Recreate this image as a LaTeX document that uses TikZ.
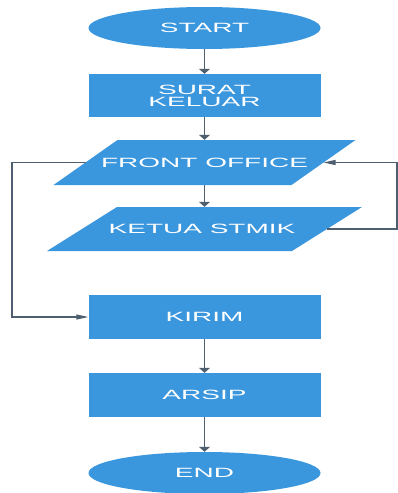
\documentclass[tikz,border=0pt]{standalone}
\usepackage{fontspec}
\setmainfont{Liberation Sans}
\usetikzlibrary{shapes.geometric,arrows.meta,calc}
\definecolor{fcblue}{RGB}{58,150,221}
\definecolor{fcline}{RGB}{78,96,112}
\newcommand{\sqz}[1]{\scalebox{1}[0.48]{#1}}
\tikzset{
  base/.style={fill=fcblue, draw=none, text=white, inner sep=0pt,
    font=\fontsize{28}{23}\selectfont},
  term/.style={base, ellipse, minimum width=232pt, minimum height=42pt},
  proc/.style={base, rectangle, minimum width=232pt, minimum height=44pt},
  paratext/.style={base, fill=none, rectangle, minimum width=238pt, minimum height=45pt},
  parafill/.style={fill=fcblue, draw=none},
  vline/.style={draw=fcline, line width=1.8pt, -{Triangle[length=5pt,width=11pt]}},
  hline/.style={draw=fcline, line width=1.1pt, -{Triangle[length=12pt,width=5pt]}},
}
\begin{document}
\begin{tikzpicture}[x=1pt,y=-1pt]
\useasboundingbox (0,0) rectangle (398,493);
% parallelogram corners
\coordinate (foTL) at (117.5,140); \coordinate (foTR) at (355.5,140);
\coordinate (foBR) at (291.5,185); \coordinate (foBL) at (53.5,185);
\coordinate (kTL) at (117,207); \coordinate (kTR) at (362,207);
\coordinate (kBR) at (292,251); \coordinate (kBL) at (47,251);
\fill[parafill] (foTL) -- (foTR) -- (foBR) -- (foBL) -- cycle;
\fill[parafill] (kTL) -- (kTR) -- (kBR) -- (kBL) -- cycle;

\node[term] (start) at (204.5,28) {\sqz{START}};
\node[proc, minimum height=43pt] (surat) at (204.5,95.5)
  {\raisebox{-2.5pt}{\sqz{\parbox{220pt}{\centering\fontsize{28}{24.5}\selectfont SURAT\\KELUAR}}}};
\node[paratext] (fo) at (204.5,162.5) {\sqz{FRONT OFFICE}};
\node[paratext, minimum height=44pt] (ketua) at (202,229) {\sqz{KETUA STMIK}};
\node[proc] (kirim) at (204.5,317) {\sqz{KIRIM}};
\node[proc] (arsip) at (204.5,395) {\sqz{ARSIP}};
\node[term] (end) at (204.5,473) {\sqz{END}};

\coordinate (foL) at ($(foTL)!0.5!(foBL)$);
\coordinate (foR) at ($(foTR)!0.5!(foBR)$);
\coordinate (kR) at ($(kTR)!0.5!(kBR)$);
\coordinate (rloop) at (397,0);
\coordinate (lloop) at (12,0);

\draw[vline] (start) -- (surat);
\draw[vline] (surat) -- (fo);
\draw[vline] (fo.south) -- (fo.south |- ketua.north);
\draw[vline] (kirim) -- (arsip);
\draw[vline] (arsip) -- (end);
\draw[hline] (kR) -- (kR -| rloop) -- (rloop |- foR) -- (foR);
\draw[hline] (foL) -- (foL -| lloop) -- (lloop |- kirim.west) -- (kirim.west);
\end{tikzpicture}
\end{document}
